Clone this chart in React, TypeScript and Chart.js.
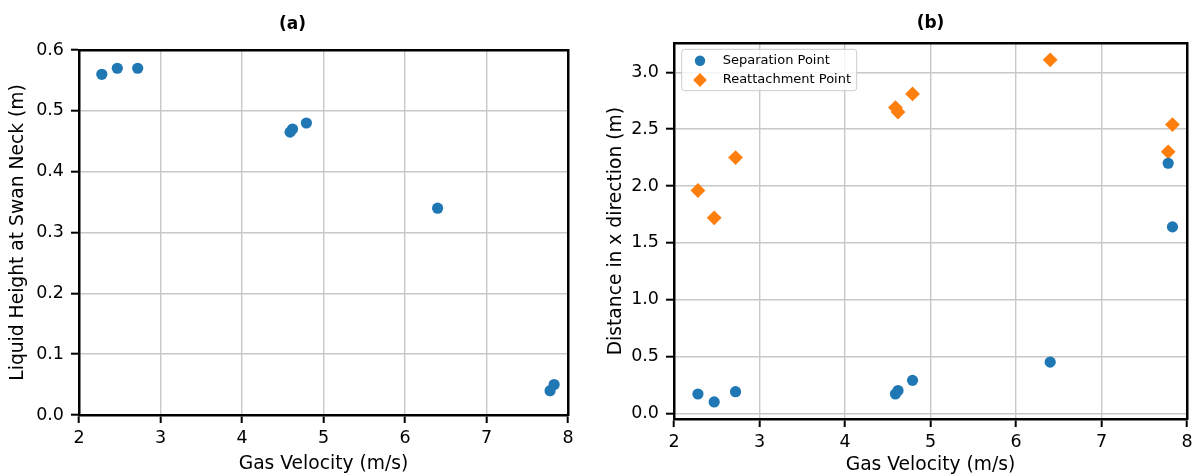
import React, { useEffect, useRef } from 'react';
import { Chart, registerables } from 'chart.js';
import { drawPoint } from 'chart.js/helpers';

Chart.register(...registerables);

// ---- data ----
const gasVelocity = [2.28, 2.47, 2.72, 4.59, 4.62, 4.79, 6.4, 7.78, 7.83];
const liquidHeight = [0.56, 0.57, 0.57, 0.465, 0.47, 0.48, 0.34, 0.04, 0.05];
const separationPoint = [0.17, 0.1, 0.19, 0.17, 0.2, 0.29, 0.45, 2.2, 1.64];
const reattachmentPoint = [1.96, 1.72, 2.25, 2.69, 2.65, 2.81, 3.11, 2.3, 2.54];

const xTicks = [2, 3, 4, 5, 6, 7, 8];
const yTicksA = [0, 0.1, 0.2, 0.3, 0.4, 0.5, 0.6];
const yTicksB = [0, 0.5, 1.0, 1.5, 2.0, 2.5, 3.0];

const titleA = '(a)';
const titleB = '(b)';
const xLabel = 'Gas Velocity (m/s)';
const yLabelA = 'Liquid Height at Swan Neck (m)';
const yLabelB = 'Distance in x direction (m)';
const seriesLabels = ['Separation Point', 'Reattachment Point'];

// ---- styles ----
const FAMILY = "'DejaVu Sans', sans-serif";
const BLUE = '#1f77b4';
const ORANGE = '#ff7f0e';
const GRID = '#c8c8c8';
const SPINE = '#000000';
const SPINE_W = 2.5;
const TICK_FONT = 17.5;
const LABEL_FONT = 18.7;

const toXY = (xs: number[], ys: number[]) => xs.map((x, i) => ({ x, y: ys[i] }));

const legendRadius: Record<string, number> = { circle: 5.2, rectRot: 6.9 };

const mplLegend = {
  id: 'mplLegend',
  afterDatasetsDraw(chart: any, _args: any, opts: any) {
    if (!opts || !opts.show) return;
    const { ctx, chartArea } = chart;
    const x0 = chartArea.left + 7.7;
    const y0 = chartArea.top + 6;
    const w = 175;
    const h = 41.4;
    ctx.save();
    ctx.beginPath();
    if (ctx.roundRect) ctx.roundRect(x0, y0, w, h, 3);
    else ctx.rect(x0, y0, w, h);
    ctx.fillStyle = 'rgba(255,255,255,0.8)';
    ctx.fill();
    ctx.lineWidth = 1;
    ctx.strokeStyle = '#cccccc';
    ctx.stroke();
    chart.data.datasets.forEach((ds: any, i: number) => {
      const cy = y0 + 11.4 + i * 19.3;
      ctx.fillStyle = ds.backgroundColor;
      drawPoint(
        ctx,
        { pointStyle: ds.pointStyle, radius: legendRadius[ds.pointStyle] || 5, rotation: 0, borderWidth: 0 } as any,
        x0 + 18.3,
        cy
      );
      ctx.fillStyle = '#000';
      ctx.font = `13px ${FAMILY}`;
      ctx.textBaseline = 'middle';
      ctx.textAlign = 'left';
      ctx.fillText(ds.label, x0 + 41, cy);
    });
    ctx.restore();
  },
};

interface PanelOpts {
  title: string;
  titlePad: { top: number; bottom: number };
  yLabel: string;
  yMin: number;
  yMax: number;
  yTicks: number[];
  yWidth: number;
  y2Width: number;
  xHeight: number;
  yTitlePad: number;
  xTitlePad: number;
  datasets: any[];
  showLegend: boolean;
}

function makeConfig(p: PanelOpts): any {
  const grid = {
    display: true,
    color: GRID,
    lineWidth: 1.4,
    drawTicks: true,
    tickLength: 8,
    tickColor: SPINE,
    tickWidth: 2,
  };
  const border = { display: true, color: SPINE, width: SPINE_W };
  return {
    type: 'scatter',
    data: { datasets: p.datasets },
    options: {
      responsive: false,
      animation: false,
      events: [],
      layout: { padding: 0 },
      plugins: {
        legend: { display: false },
        tooltip: { enabled: false },
        title: {
          display: true,
          text: p.title,
          color: '#000',
          font: { family: FAMILY, size: 17, weight: 'bold' },
          padding: p.titlePad,
        },
        mplLegend: { show: p.showLegend },
      },
      scales: {
        x: {
          type: 'linear',
          axis: 'x',
          position: 'bottom',
          min: 2,
          max: 8,
          afterBuildTicks: (s: any) => {
            s.ticks = xTicks.map((v) => ({ value: v }));
          },
          afterFit: (s: any) => {
            s.height = p.xHeight;
          },
          grid,
          border,
          ticks: {
            color: '#000',
            font: { family: FAMILY, size: TICK_FONT },
            padding: 4.8,
            maxRotation: 0,
            autoSkip: false,
            callback: (v: any) => String(v),
          },
          title: {
            display: true,
            text: xLabel,
            color: '#000',
            font: { family: FAMILY, size: LABEL_FONT },
            padding: { top: 0, bottom: p.xTitlePad },
          },
        },
        y: {
          type: 'linear',
          axis: 'y',
          position: 'left',
          min: p.yMin,
          max: p.yMax,
          afterBuildTicks: (s: any) => {
            s.ticks = p.yTicks.map((v) => ({ value: v }));
          },
          afterFit: (s: any) => {
            s.width = p.yWidth;
          },
          grid,
          border,
          ticks: {
            color: '#000',
            font: { family: FAMILY, size: TICK_FONT },
            padding: 7,
            autoSkip: false,
            callback: (v: any) => Number(v).toFixed(1),
          },
          title: {
            display: true,
            text: p.yLabel,
            color: '#000',
            font: { family: FAMILY, size: LABEL_FONT },
            padding: { top: p.yTitlePad, bottom: 0 },
          },
        },
        x2: {
          type: 'linear',
          axis: 'x',
          position: 'top',
          min: 2,
          max: 8,
          grid: { display: false },
          ticks: { display: false },
          border,
          afterFit: (s: any) => {
            s.height = 0;
          },
        },
        y2: {
          type: 'linear',
          axis: 'y',
          position: 'right',
          min: p.yMin,
          max: p.yMax,
          grid: { display: false },
          ticks: { display: false },
          border,
          afterFit: (s: any) => {
            s.width = p.y2Width;
          },
        },
      },
    },
    plugins: [mplLegend],
  };
}

export default function App() {
  const refA = useRef<HTMLCanvasElement | null>(null);
  const refB = useRef<HTMLCanvasElement | null>(null);

  useEffect(() => {
    const marker = { borderWidth: 0, clip: false };
    const chartA = new Chart(
      refA.current as HTMLCanvasElement,
      makeConfig({
        title: titleA,
        titlePad: { top: 14, bottom: 15.6 },
        yLabel: yLabelA,
        yMin: 0,
        yMax: 0.6,
        yTicks: yTicksA,
        yWidth: 79,
        y2Width: 17,
        xHeight: 61,
        yTitlePad: 7.4,
        xTitlePad: 0.6,
        showLegend: false,
        datasets: [
          {
            label: 'Liquid Height',
            data: toXY(gasVelocity, liquidHeight),
            backgroundColor: BLUE,
            pointStyle: 'circle',
            pointRadius: 5.6,
            pointHoverRadius: 5.6,
            ...marker,
          },
        ],
      })
    );
    const chartB = new Chart(
      refB.current as HTMLCanvasElement,
      makeConfig({
        title: titleB,
        titlePad: { top: 13.3, bottom: 9.6 },
        yLabel: yLabelB,
        yMin: -0.05,
        yMax: 3.255,
        yTicks: yTicksB,
        yWidth: 74,
        y2Width: 74,
        xHeight: 57,
        yTitlePad: 5.4,
        xTitlePad: 0,
        showLegend: true,
        datasets: [
          {
            label: seriesLabels[0],
            data: toXY(gasVelocity, separationPoint),
            backgroundColor: BLUE,
            pointStyle: 'circle',
            pointRadius: 5.6,
            pointHoverRadius: 5.6,
            ...marker,
          },
          {
            label: seriesLabels[1],
            data: toXY(gasVelocity, reattachmentPoint),
            backgroundColor: ORANGE,
            pointStyle: 'rectRot',
            pointRadius: 7.4,
            pointHoverRadius: 7.4,
            ...marker,
          },
        ],
      })
    );
    return () => {
      chartA.destroy();
      chartB.destroy();
    };
  }, []);

  return (
    <div
      style={{
        position: 'absolute',
        left: 0,
        top: 0,
        width: 1199,
        height: 476,
        overflow: 'hidden',
        background: '#fff',
      }}
    >
      <canvas
        ref={refA}
        width={585}
        height={476}
        style={{ position: 'absolute', left: 0, top: 0 }}
      />
      <canvas
        ref={refB}
        width={661}
        height={476}
        style={{ position: 'absolute', left: 600, top: 0 }}
      />
    </div>
  );
}
